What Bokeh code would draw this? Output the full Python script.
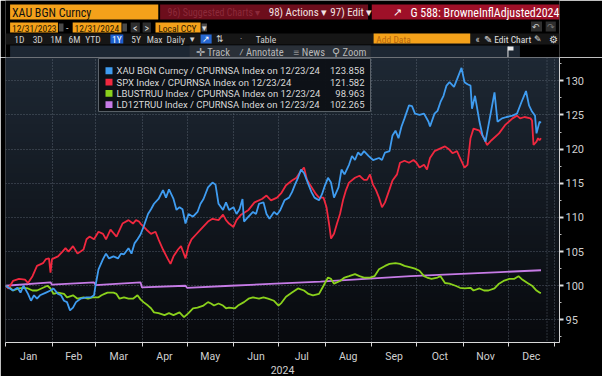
import numpy as np
import pandas as pd
from bokeh.plotting import figure
from bokeh.layouts import column
from bokeh.models import Range1d, FixedTicker, Label, Span, DatetimeTickFormatter
from bokeh.core.properties import value
from bokeh.embed import file_html
from bokeh.resources import INLINE

# ---------------- data (days since 2024-01-01, value rebased to 100) ----------------
start_date = "2024-01-01"

gold_days = [0, 5, 8, 10, 12, 15, 17, 19, 21, 23, 27, 30, 32, 35, 37, 39, 41, 43, 45, 47, 50, 54, 57, 59,
             60, 62, 65, 67, 69, 72, 75, 77, 79, 82, 84, 86, 88, 90, 92, 95, 97, 99, 102, 105, 107, 109,
             112, 114, 116, 118, 120, 122, 125, 128, 130, 132, 135, 138, 140, 142, 145, 147, 149, 152,
             154, 156, 158, 159, 162, 165, 167, 169, 172, 174, 176, 179, 181, 183, 186, 189, 191, 193,
             195, 197, 199, 202, 204, 206, 209, 211, 213, 215, 217, 219, 222, 224, 226, 229, 231, 233,
             235, 237, 239, 242, 245, 249, 251, 253, 256, 258, 260, 262, 264, 266, 269, 271, 273, 276,
             279, 282, 283, 286, 288, 290, 292, 294, 296, 299, 301, 304, 306, 308, 310, 311, 313, 316,
             318, 320, 322, 324, 326, 328, 331, 334, 338, 341, 344, 347, 349, 351, 353, 354, 356, 357]
gold_vals = [100.0, 99.3, 99.7, 99.0, 100.0, 98.8, 97.8, 98.6, 98.1, 98.6, 99.0, 99.3, 99.6, 98.8, 98.6,
             97.8, 97.6, 96.4, 96.8, 97.6, 98.1, 98.3, 98.3, 98.6,
             100.0, 102.4, 103.9, 104.7, 104.0, 104.3, 104.0, 104.7, 104.6, 105.5, 104.7, 106.2, 106.8,
             107.5, 108.6, 110.5, 111.2, 112.0, 112.7, 114.0, 112.9, 114.1,
             112.7, 111.1, 111.5, 111.2, 109.1, 110.5, 110.1, 110.8, 112.0, 112.7, 114.4, 115.1, 114.8,
             112.0, 111.1, 112.2, 111.1, 111.5,
             110.5, 111.2, 112.7, 109.4, 110.1, 110.8, 110.5, 112.0, 112.2, 110.5, 109.8, 110.8, 110.4,
             111.0, 112.5, 112.9, 113.7, 114.8,
             115.8, 117.0, 116.5, 114.8, 113.7, 112.9, 112.5, 113.4, 114.7, 115.8, 115.1, 112.9, 114.4,
             117.0, 116.3, 117.7, 119.0, 118.4,
             119.5, 119.1, 119.7, 119.0, 118.4, 118.7, 118.4, 119.5, 119.7, 122.0, 122.7, 121.6, 123.3,
             124.5, 126.4, 126.3, 125.2, 125.0,
             125.2, 124.0, 123.3, 125.2, 125.6, 126.9, 127.8, 129.3, 129.8, 129.1, 130.2, 131.9, 129.8,
             129.5, 129.3, 125.9, 127.8, 124.0,
             122.0, 121.1, 123.5, 125.9, 128.3, 124.0, 124.5, 124.7, 124.9, 125.2, 126.9, 128.5, 126.4,
             125.5, 124.9, 122.3, 124.0, 123.858]

spx_days = [0, 2, 5, 9, 13, 15, 18, 21, 25, 27, 29, 30, 31, 35, 38, 40, 42, 45, 48, 52, 54, 56, 59, 62,
            65, 67, 70, 74, 78, 82, 85, 87, 89, 90, 94, 97, 100, 102, 105, 108, 110, 112, 115, 117, 119,
            120, 122, 124, 127, 130, 135, 138, 142, 145, 147, 149, 152, 154, 157, 162, 166, 171, 174,
            177, 181, 184, 187, 191, 194, 196, 199, 201, 203, 205, 207, 209, 212, 214, 216, 217, 219,
            221, 223, 225, 227, 229, 233, 236, 239, 241, 243, 245, 247, 249, 251, 253, 256, 258, 261,
            263, 266, 269, 272, 274, 276, 279, 281, 283, 286, 290, 293, 296, 298, 301, 303, 306, 308,
            310, 312, 316, 319, 321, 324, 329, 333, 338, 341, 343, 346, 350, 351, 352, 354, 355, 356, 357]
spx_vals = [100.0, 99.6, 100.7, 101.0, 100.9, 100.4, 101.4, 102.9, 103.3, 103.9, 104.0, 101.9, 103.9,
            104.3, 105.0, 105.5, 105.0, 105.8, 104.7, 105.3, 106.8, 107.2, 106.8, 107.9,
            107.6, 106.8, 108.2, 107.2, 109.1, 109.6, 109.1, 109.6, 109.4, 109.1, 108.2, 107.6, 107.9,
            106.8, 105.3, 104.0, 103.2, 104.3, 105.3, 105.8, 104.6,
            104.0, 105.8, 106.8, 107.5, 108.2, 109.4, 109.8, 109.6, 110.4, 109.6, 109.1, 108.6, 109.6,
            110.4, 111.1, 112.2, 112.7, 113.2,
            112.5, 112.9, 113.6, 114.7, 115.4, 115.8, 116.5, 117.3, 115.5, 114.8, 114.1, 113.4, 112.9,
            112.9, 111.5, 108.6, 106.9, 107.6,
            109.1, 110.5, 112.5, 114.0, 115.1, 115.8, 116.1, 115.5, 115.5, 116.3, 114.8, 114.0, 112.9,
            111.5, 112.2, 114.1, 115.4, 116.3,
            118.0, 118.3, 118.0, 118.4, 118.0, 117.3, 117.7, 117.0, 118.7, 119.7, 120.1, 120.4, 119.9,
            119.4, 119.7, 118.7, 117.3, 117.7,
            121.6, 123.0, 122.7, 121.6, 120.6, 121.3, 122.3, 123.5, 124.5, 124.9, 124.5, 124.7, 124.5,
            124.2, 120.6, 121.1, 121.6, 121.3, 121.582]

agg_days = [0, 3, 5, 9, 12, 15, 18, 21, 25, 28, 30, 32, 35, 39, 41, 45, 48, 52, 55, 58, 62, 64, 66, 68,
            72, 74, 76, 79, 82, 85, 88, 90, 92, 95, 97, 99, 102, 106, 109, 112, 116, 119, 122, 125,
            128, 132, 135, 137, 139, 142, 145, 147, 149, 153, 155, 159, 162, 165, 169, 172, 175, 179,
            182, 184, 187, 191, 195, 199, 202, 205, 209, 211, 213, 215, 217, 219, 223, 226, 229, 233,
            236, 239, 243, 246, 249, 253, 256, 260, 263, 266, 270, 273, 276, 279, 281, 284, 288, 290,
            293, 296, 300, 303, 306, 310, 312, 316, 319, 322, 326, 329, 332, 336, 339, 342, 344, 348,
            351, 354, 356, 357]
agg_vals = [100.0, 99.7, 99.3, 99.6, 99.7, 99.6, 99.3, 99.3, 99.7, 100.0, 99.6, 98.8, 99.0, 98.8, 98.3,
            98.6, 98.1, 98.3, 98.1, 98.3, 98.3, 98.6, 98.8, 99.0,
            99.0, 98.8, 98.1, 98.3, 98.1, 98.1, 98.6, 98.0, 97.6, 97.1, 96.7, 96.1, 96.0, 95.7, 96.0,
            95.7, 96.1, 95.4, 96.0, 96.7,
            96.8, 97.1, 97.6, 97.4, 97.1, 97.4, 97.1, 96.7, 96.8, 96.7, 97.1, 97.6, 98.1, 98.3, 98.1,
            98.3, 98.1, 97.8,
            97.1, 97.5, 98.4, 99.0, 99.6, 99.3, 98.8, 98.6, 98.8, 99.6, 100.4, 101.2, 101.0, 100.3,
            100.7, 101.2, 101.4, 101.7,
            101.4, 101.2, 101.2, 101.4, 102.4, 102.9, 103.2, 103.3, 103.2, 102.9, 102.7, 102.5, 102.2,
            101.4, 101.2, 101.0, 101.2, 101.4,
            100.4, 100.3, 100.0, 99.7, 99.6, 99.7, 99.3, 99.6, 99.3, 99.3, 99.6, 100.3, 100.7, 101.0,
            101.0, 101.4, 101.0, 100.4,
            100.0, 99.3, 99.0, 98.963]

tsy_days = [0, 30, 31, 59, 60, 90, 91, 120, 121, 150, 180, 210, 240, 270, 300, 330, 357]
tsy_vals = [100.0, 100.5, 100.15, 100.5, 100.1, 100.5, 99.75, 100.0, 99.7, 100.0, 100.3, 100.6,
            101.0, 101.4, 101.7, 102.0, 102.265]

series_names = ["XAU BGN Curncy / CPURNSA Index on 12/23/24",
                "SPX Index / CPURNSA Index on 12/23/24",
                "LBUSTRUU Index / CPURNSA Index on 12/23/24",
                "LD12TRUU Index / CPURNSA Index on 12/23/24"]
last_values = [123.858, 121.582, 98.963, 102.265]
month_labels = ["Jan", "Feb", "Mar", "Apr", "May", "Jun", "Jul", "Aug", "Sep", "Oct", "Nov", "Dec"]
y_ticks = [95, 100, 105, 110, 115, 120, 125, 130, 135]
year_label = "2024"
today_marker = "2024-12-27"

# ---------------- styling ----------------
FONT = value("Roboto")
NARROW = value("Liberation Sans Narrow, Roboto Condensed, Roboto")
COLORS = ["#3f9cf0", "#f0283f", "#8ad11c", "#c67be6"]
TAG_TEXT = ["#0c3870", "#ffe0e6", "#234f00", "#55187f"]
GRID = "#6a7480"
DAY = 86400000.0

t0 = pd.Timestamp(start_date)
def ms(ts):
    return pd.Timestamp(ts).value / 1e6

def to_dates(days):
    return t0 + pd.to_timedelta(np.asarray(days, dtype=float), unit="D")

x0 = ms(t0)
x1 = x0 + 369.33 * DAY
y_bot, y_top = 91.69, 133.41
FRAME_W, FRAME_H, TOP = 554, 290, 57

def px_x(px):
    return x0 + (px - 5) / FRAME_W * (x1 - x0)

def px_y(py):
    return y_top - (py - TOP) / FRAME_H * (y_top - y_bot)

# ---------------- header (terminal chrome) ----------------
h = figure(width=602, height=TOP, x_range=Range1d(0, 602), y_range=Range1d(TOP, 0),
           output_backend="svg", toolbar_location=None, min_border=0,
           background_fill_color="black", border_fill_color="black", outline_line_color=None)
h.axis.visible = False
h.grid.visible = False

ORANGE = "#f4a11a"
boxes = [
    (0, 602, 33, 44, "#161616"),
    (5, 166, 4, 19, ORANGE), (168, 394, 4, 19, "#6d0e1c"), (398, 602, 4, 19, "#9e1028"),
    (5, 57, 22, 32, ORANGE), (58, 63, 23, 31, "#4a4a4a"), (73, 126, 22, 32, ORANGE),
    (127, 132, 23, 31, "#4a4a4a"), (136, 146, 22, 32, "#2e2e2e"), (149, 158, 22, 32, "#2e2e2e"),
    (163, 212, 22, 32, ORANGE), (213, 219, 23, 31, "#4a4a4a"),
    (571, 583, 21, 31, "#2e2e2e"), (587, 598, 21, 31, "#2e2e2e"),
    (114, 128, 34, 43, "#1d5fcf"), (212, 224, 34, 43, "#2667d0"), (400, 505, 33, 43, ORANGE),
    (5, 559, 45, 57, "#1d2733"), (200, 397, 45, 57, "#2a3038"),
    (546, 552, 46, 50, "#e8e8e8"),
]
h.quad(left=[b[0] for b in boxes], right=[b[1] for b in boxes], top=[b[2] for b in boxes],
       bottom=[b[3] for b in boxes], fill_color=[b[4] for b in boxes], line_color=None)
h.segment(x0=[546], y0=[46], x1=[546], y1=[57], line_color="#e8e8e8", line_width=1)

texts = [
    (7, 12, "XAU BGN Curncy", "#111111", "12px", "left"),
    (176, 12, "96) Suggested Charts \u25be", "#8c2a3a", "10px", "left"),
    (286, 12, "98) Actions \u25be", "#f2e2e2", "11px", "left"),
    (353, 12, "97) Edit \u25be", "#f2e2e2", "11px", "left"),
    (426, 12, "\u2197", "#ffffff", "11px", "center"),
    (440, 12, "G 588: BrowneInflAdjusted2024", "#ffffff", "12px", "left"),
    (7, 27.5, "12/31/2023", "#2a1800", "9.5px", "left"),
    (67, 27.5, "-", "#cccccc", "10px", "center"),
    (75, 27.5, "12/31/2024", "#2a1800", "9.5px", "left"),
    (141, 27.5, "<", "#dddddd", "10px", "center"),
    (153.5, 27.5, ">", "#dddddd", "10px", "center"),
    (166, 27.5, "Local CCY", "#2a1800", "9.5px", "left"),
    (216, 27.5, "\u25be", "#dddddd", "9px", "center"),
    (577, 26.5, "\u21b6", "#cccccc", "9px", "center"),
    (592.5, 26.5, "\u21b7", "#777777", "9px", "center"),
    (15, 38.5, "1D", "#cfcfcf", "9.5px", "center"), (35, 38.5, "3D", "#cfcfcf", "9.5px", "center"),
    (55, 38.5, "1M", "#cfcfcf", "9.5px", "center"), (75, 38.5, "6M", "#cfcfcf", "9.5px", "center"),
    (95, 38.5, "YTD", "#cfcfcf", "9.5px", "center"), (121, 38.5, "1Y", "#ffffff", "9.5px", "center"),
    (142, 38.5, "5Y", "#cfcfcf", "9.5px", "center"), (162, 38.5, "Max", "#cfcfcf", "9.5px", "center"),
    (185, 38.5, "Daily", "#cfcfcf", "9.5px", "center"),
    (203, 38.5, "\u25bc", "#cfcfcf", "8px", "center"),
    (218, 38.5, "\u2197", "#ffffff", "9px", "center"),
    (233, 38.5, "\u21c5", "#cfcfcf", "9px", "center"),
    (256, 38.5, "\u00b7", "#cfcfcf", "9px", "center"),
    (283, 38.5, "Table", "#cfcfcf", "9.5px", "center"),
    (403, 38.5, "Add Data", "#b8680e", "9.5px", "left"),
    (513, 38.5, "\u00ab", "#cfcfcf", "10px", "center"),
    (520, 38.5, "\u270e Edit Chart", "#e0e0e0", "9.5px", "left"),
    (579, 38.5, "\u270e", "#e0e0e0", "9px", "center"),
    (595, 38.5, "\u2699", "#e0e0e0", "10px", "center"),
    (207, 51.5, "\u271b Track", "#b8b8b8", "10.5px", "left"),
    (254, 51.5, "\u2044 Annotate", "#b8b8b8", "10.5px", "left"),
    (313, 51.5, "\u2261 News", "#b8b8b8", "10.5px", "left"),
    (355, 51.5, "\u26b2 Zoom", "#b8b8b8", "10.5px", "left"),
]
for tx, ty, tt, tc, ts, ta in texts:
    h.text(x=[tx], y=[ty], text=[tt], text_color=tc, text_font_size=ts, text_align=ta,
           text_baseline="middle", text_font=NARROW)

# ---------------- main chart ----------------
p = figure(width=602, height=319, x_range=Range1d(x0, x1), y_range=Range1d(y_bot, y_top),
           x_axis_type="datetime", y_axis_location="right",
           output_backend="svg", toolbar_location=None,
           min_border_left=5, min_border_right=43, min_border_top=0, min_border_bottom=29,
           background_fill_color="#121820", border_fill_color="black", outline_line_color=None)

# dark gradient backdrop
N = 64
img = np.empty((N, 1), dtype=np.uint32)
view = img.view(dtype=np.uint8).reshape((N, 1, 4))
bottom_c = np.array([8, 10, 14])
top_c = np.array([30, 40, 52])
for i in range(N):
    t = i / (N - 1)
    c = bottom_c + t * (top_c - bottom_c)
    view[i, 0, 0:3] = c.astype(np.uint8)
    view[i, 0, 3] = 255
p.image_rgba(image=[img], x=x0, y=y_bot, dw=x1 - x0, dh=y_top - y_bot, level="image")

month_starts = pd.date_range(start_date, periods=13, freq="MS")
mid_months = [ms(m + (month_starts[i + 1] - m) / 2) for i, m in enumerate(month_starts[:-1])]
p.xaxis.ticker = FixedTicker(ticks=mid_months, minor_ticks=[ms(m) for m in month_starts])
p.xaxis.major_label_overrides = {t: lab for t, lab in zip(mid_months, month_labels)}
p.xaxis.formatter = DatetimeTickFormatter(months="%b", days="%b")
p.xaxis.major_tick_out = 0
p.xaxis.major_tick_in = 0
p.xaxis.minor_tick_out = 4
p.xaxis.minor_tick_in = 0
p.xaxis.minor_tick_line_color = "#d8d8d8"
p.xaxis.axis_line_color = "#d8d8d8"
p.xaxis.major_label_standoff = 3
p.xaxis.major_label_text_color = "#d0d0d0"
p.xaxis.major_label_text_font_size = "10.5px"
p.xaxis.major_label_text_font = "Liberation Sans Narrow, Roboto"
p.xaxis.axis_label = year_label
p.xaxis.axis_label_standoff = 0
p.xaxis.axis_label_text_font_style = "normal"
p.xaxis.axis_label_text_font_size = "10.5px"
p.xaxis.axis_label_text_font = "Liberation Sans Narrow, Roboto"
p.xaxis.axis_label_text_color = "#d0d0d0"

p.yaxis.ticker = FixedTicker(ticks=y_ticks, minor_ticks=[t + 2.5 for t in y_ticks[:-1]] + [92.5])
p.yaxis.major_tick_out = 4
p.yaxis.major_tick_in = 0
p.yaxis.major_tick_line_width = 2
p.yaxis.major_tick_line_color = "#e0e0e0"
p.yaxis.minor_tick_out = 2
p.yaxis.minor_tick_in = 0
p.yaxis.minor_tick_line_color = "#bbbbbb"
p.yaxis.axis_line_color = "#d0d0d0"
p.yaxis.major_label_standoff = 2
p.yaxis.major_label_text_color = "#d0d0d0"
p.yaxis.major_label_text_font_size = "11px"
p.yaxis.major_label_text_font = "Liberation Sans Narrow, Roboto"

p.xgrid.ticker = FixedTicker(ticks=[ms(m) for m in month_starts])
p.ygrid.ticker = FixedTicker(ticks=y_ticks)
for g in (p.xgrid, p.ygrid):
    g.grid_line_color = GRID
    g.grid_line_dash = "1 2"
    g.grid_line_alpha = 0.75
    g.grid_line_width = 1

p.add_layout(Span(location=ms(today_marker), dimension="height", line_color=GRID,
                  line_dash="1 2", line_alpha=0.75, line_width=1))

# series
series = [(gold_days, gold_vals), (spx_days, spx_vals), (agg_days, agg_vals), (tsy_days, tsy_vals)]
for idx in (3, 2, 1, 0):
    d, v = series[idx]
    p.line(x=to_dates(d), y=v, line_color=COLORS[idx], line_width=1.8)

# legend box (upper left)
p.quad(left=[px_x(98)], right=[px_x(370)], top=[px_y(58)], bottom=[px_y(112)],
       fill_color="#0d1116", fill_alpha=0.96, line_color="#5c636b", line_width=1)
row_y = [70.5, 82.0, 93.5, 105.0]
p.quad(left=[px_x(105)] * 4, right=[px_x(112)] * 4,
       top=[px_y(r - 3.5) for r in row_y], bottom=[px_y(r + 3.5) for r in row_y],
       fill_color=COLORS, line_color=None)
p.text(x=[px_x(116)] * 4, y=[px_y(r) for r in row_y], text=series_names,
       text_color="#d8d8d8", text_font_size="9.5px", text_baseline="middle", text_font=FONT)
p.text(x=[px_x(364)] * 4, y=[px_y(r) for r in row_y], text=[f"{v:.3f}" for v in last_values],
       text_color="#d8d8d8", text_font_size="9.5px", text_baseline="middle", text_align="right",
       text_font=FONT)

# last-value tags on the right axis
for v, c, tc in zip(last_values, COLORS, TAG_TEXT):
    p.add_layout(Label(x=x1 + 3.2 * DAY, y=v, text=f"{v:.3f}", text_color=tc,
                       text_font_size="10.5px", text_font="Liberation Sans Narrow, Roboto",
                       text_baseline="middle", text_align="left", background_fill_color=c,
                       padding=1))

layout = column(h, p, spacing=0)
with open("out.html", "w") as f:
    f.write(file_html(layout, INLINE))
